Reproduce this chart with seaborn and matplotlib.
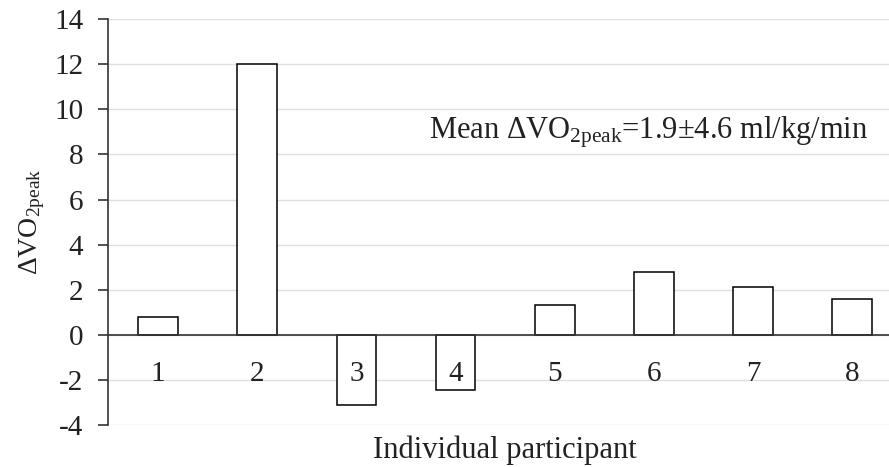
import matplotlib
matplotlib.use("Agg")
import matplotlib.pyplot as plt
import seaborn as sns
import pandas as pd

participants = ["1", "2", "3", "4", "5", "6", "7", "8"]
delta_vo2 = [0.8, 12.0, -3.1, -2.45, 1.3, 2.8, 2.1, 1.6]
y_ticks = [-4, -2, 0, 2, 4, 6, 8, 10, 12, 14]

sns.set_theme(style="white")
plt.rcParams['font.family'] = ['Liberation Serif', 'DejaVu Serif']
plt.rcParams['mathtext.fontset'] = 'custom'
plt.rcParams['mathtext.rm'] = 'Liberation Serif'
plt.rcParams['mathtext.it'] = 'Liberation Serif:italic'

FS = 22
TXT = "#222222"

df = pd.DataFrame({"participant": participants, "delta": delta_vo2})

fig = plt.figure(figsize=(8.89, 4.67), dpi=100)
ax = fig.add_axes([0.122, 0.090, 0.878, 0.869])

# gridlines below bars
for t in y_ticks:
    ax.axhline(t, color="#e0e0e0", linewidth=1.0, zorder=0)

sns.barplot(data=df, x="participant", y="delta", color="white",
            edgecolor="black", linewidth=1.1, width=0.4, ax=ax, zorder=1)

ax.set_ylim(-4, 14)
ax.set_xlim(-0.5, 7.37)
ax.set_yticks(y_ticks)
ax.set_yticklabels([str(t) for t in y_ticks], fontsize=21, color=TXT)
ax.grid(False)

for s in ["top", "right"]:
    ax.spines[s].set_visible(False)
ax.spines["left"].set_color("#333333")
ax.spines["left"].set_linewidth(1.2)
ax.spines["bottom"].set_position(("data", 0))
ax.spines["bottom"].set_color("#333333")
ax.spines["bottom"].set_linewidth(1.2)

ax.tick_params(axis="y", which="major", direction="out", length=7, width=1.2,
               color="#333333", left=True, pad=11)
ax.set_xticks([])
ax.set_xlabel("")

# category labels below the zero line, above the bars
for i, p in enumerate(participants):
    ax.text(i, -2.03, p, ha="center", va="baseline", fontsize=21,
            color=TXT, zorder=5)

ax.set_ylabel(r"$\Delta$VO$_{\mathregular{2peak}}$", fontsize=20, color=TXT)
ax.yaxis.set_label_coords(-0.079, 0.50)

fig.text(0.568, 0.02, "Individual participant", ha="center", va="baseline",
         fontsize=FS, color=TXT)

ax.text(2.73, 8.69, r"Mean $\Delta$VO$_{\mathregular{2peak}}$=1.9±4.6 ml/kg/min",
        ha="left", va="baseline", fontsize=FS, color=TXT,
        bbox=dict(facecolor="white", edgecolor="none", pad=2), zorder=5)

fig.savefig("out.png", dpi=100)
